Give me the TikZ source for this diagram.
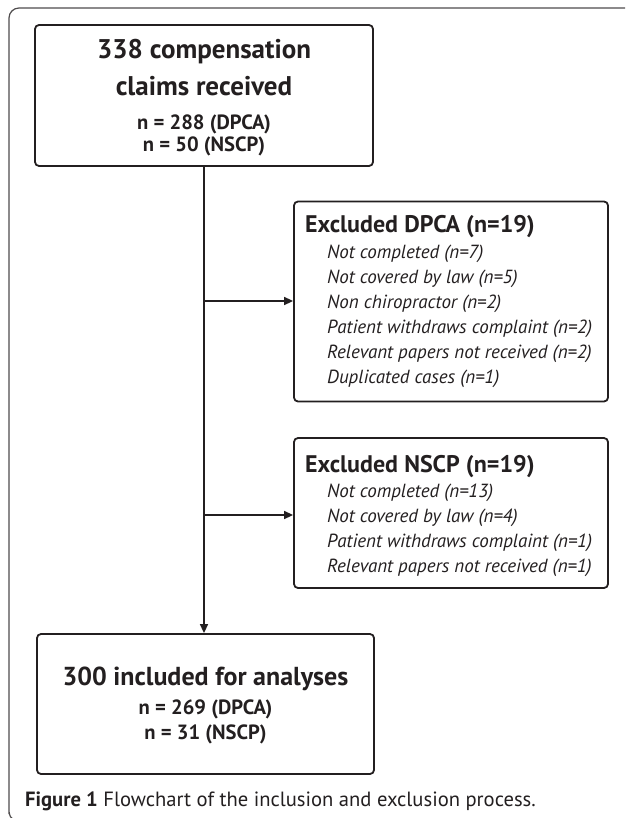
\documentclass[tikz,border=0pt]{standalone}
\usepackage{fontspec}
\setmainfont{PT Sans}
\usetikzlibrary{arrows.meta}
\definecolor{ink}{HTML}{231F20}
\begin{document}
\begin{tikzpicture}[x=1pt,y=-1pt,
  box/.style={draw=ink,line width=1.8pt,rounded corners=4pt,inner sep=0pt},
  txt/.style={inner sep=0pt,text=ink},
  bigtitle/.style={txt,anchor=base,font=\fontsize{27}{30}\selectfont\bfseries},
  subline/.style={txt,anchor=base,font=\fontsize{20.6}{23}\selectfont\bfseries},
  extitle/.style={txt,anchor=base west,font=\fontsize{24}{27}\selectfont\bfseries},
  item/.style={txt,anchor=base west,font=\fontsize{19}{22}\selectfont\itshape},
  conn/.style={draw=ink,line width=1.5pt},
  arr/.style={conn,-{Triangle[length=9pt,width=8pt]}}]
\useasboundingbox (0,0) rectangle (625,818);
% outer frame
\draw[draw=ink!80,line width=1.2pt] (12,818) to[out=180,in=90] (9,812) -- (9,18) to[out=90,in=180] (19,8) -- (625,8);
% boxes
\node[box,minimum width=338pt,minimum height=141pt] (top) at (204,95.5) {};
\node[box,minimum width=314pt,minimum height=200pt] (dpca) at (451,301.5) {};
\node[box,minimum width=314pt,minimum height=150pt] (nscp) at (451,513) {};
\node[box,minimum width=337pt,minimum height=140pt] (bot) at (205.5,704) {};
% top text
\node[bigtitle] (t1) at (204,59) {338 compensation};
\node[bigtitle] (t2) at (204,96) {claims received};
\node[subline] (t3) at (204,130) {n = 288 (DPCA)};
\node[subline] (t4) at (204,152) {n = 50 (NSCP)};
% DPCA text
\node[extitle] (d0) at (305,233) {Excluded DPCA (n=19)};
\node[item] (d1) at (327,258) {Not completed (n=7)};
\node[item] (d2) at (327,283) {Not covered by law (n=5)};
\node[item] (d3) at (327,308) {Non chiropractor (n=2)};
\node[item] (d4) at (327,333) {Patient withdraws complaint (n=2)};
\node[item] (d5) at (327,358) {Relevant papers not received (n=2)};
\node[item] (d6) at (327,383) {Duplicated cases (n=1)};
% NSCP text
\node[extitle] (n0) at (305,472) {Excluded NSCP (n=19)};
\node[item] (n1) at (327,497) {Not completed (n=13)};
\node[item] (n2) at (327,522) {Not covered by law (n=4)};
\node[item] (n3) at (327,547) {Patient withdraws complaint (n=1)};
\node[item] (n4) at (327,572) {Relevant papers not received (n=1)};
% bottom text
\node[bigtitle,font=\fontsize{26}{29}\selectfont\bfseries] (b1t) at (205.5,685) {300 included for analyses};
\node[subline] (b2t) at (205.5,714) {n = 269 (DPCA)};
\node[subline] (b3t) at (205.5,739) {n = 31 (NSCP)};
% caption
\node[txt,anchor=base west,font=\fontsize{20.6}{23}\selectfont] (cap) at (25,806) {\textbf{Figure 1} Flowchart of the inclusion and exclusion process.};
% connectors
\coordinate (j1) at (204,301);
\coordinate (j2) at (204,515);
\draw[arr] (top.south) -- (top.south |- bot.north);
\draw[arr] (j1) -- (dpca.west |- j1);
\draw[arr] (j2) -- (nscp.west |- j2);
\end{tikzpicture}
\end{document}
